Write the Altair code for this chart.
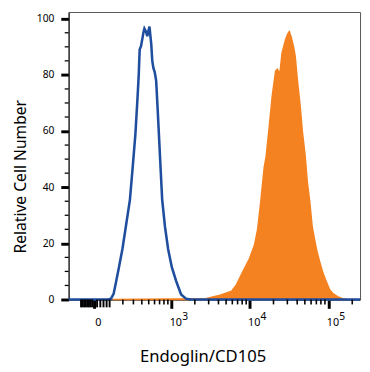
import math
import altair as alt
import pandas as pd

# ---- data (x in display decades of the biexponential axis, y = relative cell number)
blue_x = [1.70, 2.20, 2.238, 2.271, 2.300, 2.339, 2.383, 2.432, 2.478, 2.513, 2.548, 2.575,
          2.590, 2.602, 2.619, 2.637, 2.652, 2.662, 2.681, 2.699, 2.712, 2.727, 2.736, 2.749,
          2.762, 2.776, 2.793, 2.811, 2.830, 2.846, 2.867, 2.888, 2.923, 2.963, 3.010, 3.066,
          3.128, 3.190, 3.252, 4.00, 5.40]
blue_y = [0, 0, 0.3, 2.0, 6.0, 11.5, 18, 27, 35.5, 47, 59, 72,
          80, 89, 90.2, 93, 95.4, 96.5, 95.5, 93.8, 95.5, 97.2, 94.5, 91,
          85, 82.5, 81, 78, 68, 59, 47, 35.5, 26, 18, 11.5, 6.5,
          1.8, 0.3, 0, 0, 0]

orange_x = [2.259, 3.438, 3.624, 3.770, 3.832, 3.914, 3.997, 4.059, 4.100, 4.142, 4.183,
            4.208, 4.245, 4.286, 4.328, 4.348, 4.382, 4.410, 4.453, 4.481, 4.502, 4.525,
            4.556, 4.577, 4.605, 4.639, 4.667, 4.701, 4.730, 4.763, 4.792, 4.825, 4.854,
            4.887, 4.928, 4.969, 5.011, 5.052, 5.114, 5.177, 5.239]
orange_y = [0, 0.3, 1.5, 3, 5.3, 10, 14.6, 19.3, 25, 35.5, 47,
            51, 61, 72.7, 81.4, 82, 80.5, 87.8, 92.4, 94.5, 95.4, 93.5,
            90, 86.6, 78, 69.2, 60, 51.8, 42, 34.4, 26, 21, 17,
            13.5, 9.5, 6.5, 3.6, 2.2, 1.0, 0.3, 0]

y_major = [0, 20, 40, 60, 80, 100]
y_minor = [5, 10, 15, 25, 30, 35, 45, 50, 55, 65, 70, 75, 85, 90, 95]

x_major_intensity = [0, 1000, 10000, 100000]
x_major_base = ["0", "10", "10", "10"]
x_major_exponent = ["", "3", "4", "5"]
x_lin_minor_intensity = [-80, -70, -60, -50, -40, -30, -20, -10, 20, 40, 60, 80, 100]
x_log_minor_intensity = [m * 10 ** e for e in (2, 3, 4, 5) for m in range(2, 10)
                         if 200 <= m * 10 ** e <= 200000]

BLUE = "#1f4e9e"
ORANGE = "#f58220"
FONT = "Noto Sans"


def display(v):
    """biexponential-like display transform (decades)"""
    return 2.02 + math.log10(math.e) * math.asinh(v / 209.4)


XDOM = [1.70, 5.40]
YDOM = [0, 102.4]
W, H = 298, 294

blue_df = pd.DataFrame({"d": blue_x, "v": blue_y})
orange_df = pd.DataFrame({"d": orange_x, "v": orange_y})
xmaj = [display(v) for v in x_major_intensity]
lab_lookup = "[" + ",".join(["''", "''"] + ["'" + s + "'" for s in x_major_base]) + "]"
label_expr = lab_lookup + "[round(datum.value)]"

xscale = alt.Scale(domain=XDOM, nice=False, zero=False)
yscale = alt.Scale(domain=YDOM, nice=False, zero=False)

xaxis = alt.Axis(values=xmaj, labelExpr=label_expr, title="Endoglin/CD105",
                 grid=False, tickSize=9, tickWidth=3, tickColor="black",
                 domainColor="#222", domainWidth=1.2, labelFont=FONT, labelFontSize=11,
                 labelColor="black", labelPadding=9, labelOffset=4, labelFlush=False,
                 titleFont=FONT, titleFontSize=17, titleFontWeight="normal",
                 titleColor="black", titleX=137, titleY=63, titleAlign="center",
                 titleBaseline="alphabetic", titleAnchor="start")
yaxis = alt.Axis(values=y_major, title="Relative Cell Number", grid=False,
                 tickSize=8, tickWidth=3, tickColor="black", domainColor="#222",
                 domainWidth=1.2, labelFont=FONT, labelFontSize=10.5, labelColor="black",
                 labelPadding=7, titleFont=FONT, titleFontSize=16,
                 titleFontWeight="normal", titleColor="black", titleX=-44, titleY=168,
                 titleAngle=270, titleAlign="center", titleBaseline="alphabetic",
                 titleAnchor="start")

orange = alt.Chart(orange_df).mark_area(
    fill=ORANGE, stroke=ORANGE, strokeWidth=1.5, opacity=1
).encode(
    x=alt.X("d:Q", scale=xscale, axis=xaxis),
    y=alt.Y("v:Q", scale=yscale, axis=yaxis),
)

blue = alt.Chart(blue_df).mark_line(color=BLUE, strokeWidth=2.6).encode(
    x=alt.X("d:Q", scale=xscale),
    y=alt.Y("v:Q", scale=yscale),
)

ymin_df = pd.DataFrame({"v": y_minor})
ymin = alt.Chart(ymin_df).mark_rule(color="black", strokeWidth=1.3).encode(
    y=alt.Y("v:Q", scale=yscale), x=alt.value(-4), x2=alt.value(0)
)

xlin_df = pd.DataFrame({"d": [display(v) for v in x_lin_minor_intensity]})
xlin = alt.Chart(xlin_df).mark_rule(color="black", strokeWidth=2).encode(
    x=alt.X("d:Q", scale=xscale), y=alt.value(H), y2=alt.value(H + 8)
)
xlog_df = pd.DataFrame({"d": [display(v) for v in x_log_minor_intensity]})
xlog = alt.Chart(xlog_df).mark_rule(color="black", strokeWidth=1.6).encode(
    x=alt.X("d:Q", scale=xscale), y=alt.value(H), y2=alt.value(H + 5)
)

exp_df = pd.DataFrame({"d": xmaj, "t": x_major_exponent})
exps = alt.Chart(exp_df).mark_text(
    font=FONT, fontSize=10.5, color="black", align="left", baseline="middle", dx=11
).encode(
    x=alt.X("d:Q", scale=xscale), y=alt.value(H + 18), text="t:N"
)

chart = alt.layer(orange, blue, ymin, xlin, xlog, exps).properties(
    width=W, height=H,
    autosize=alt.AutoSizeParams(type="none"),
    padding={"left": 62, "top": 0, "right": 2, "bottom": 68},
).configure_view(stroke="#555", strokeWidth=1)

chart.save("out.html", embed_options={"renderer": "svg", "actions": False})
